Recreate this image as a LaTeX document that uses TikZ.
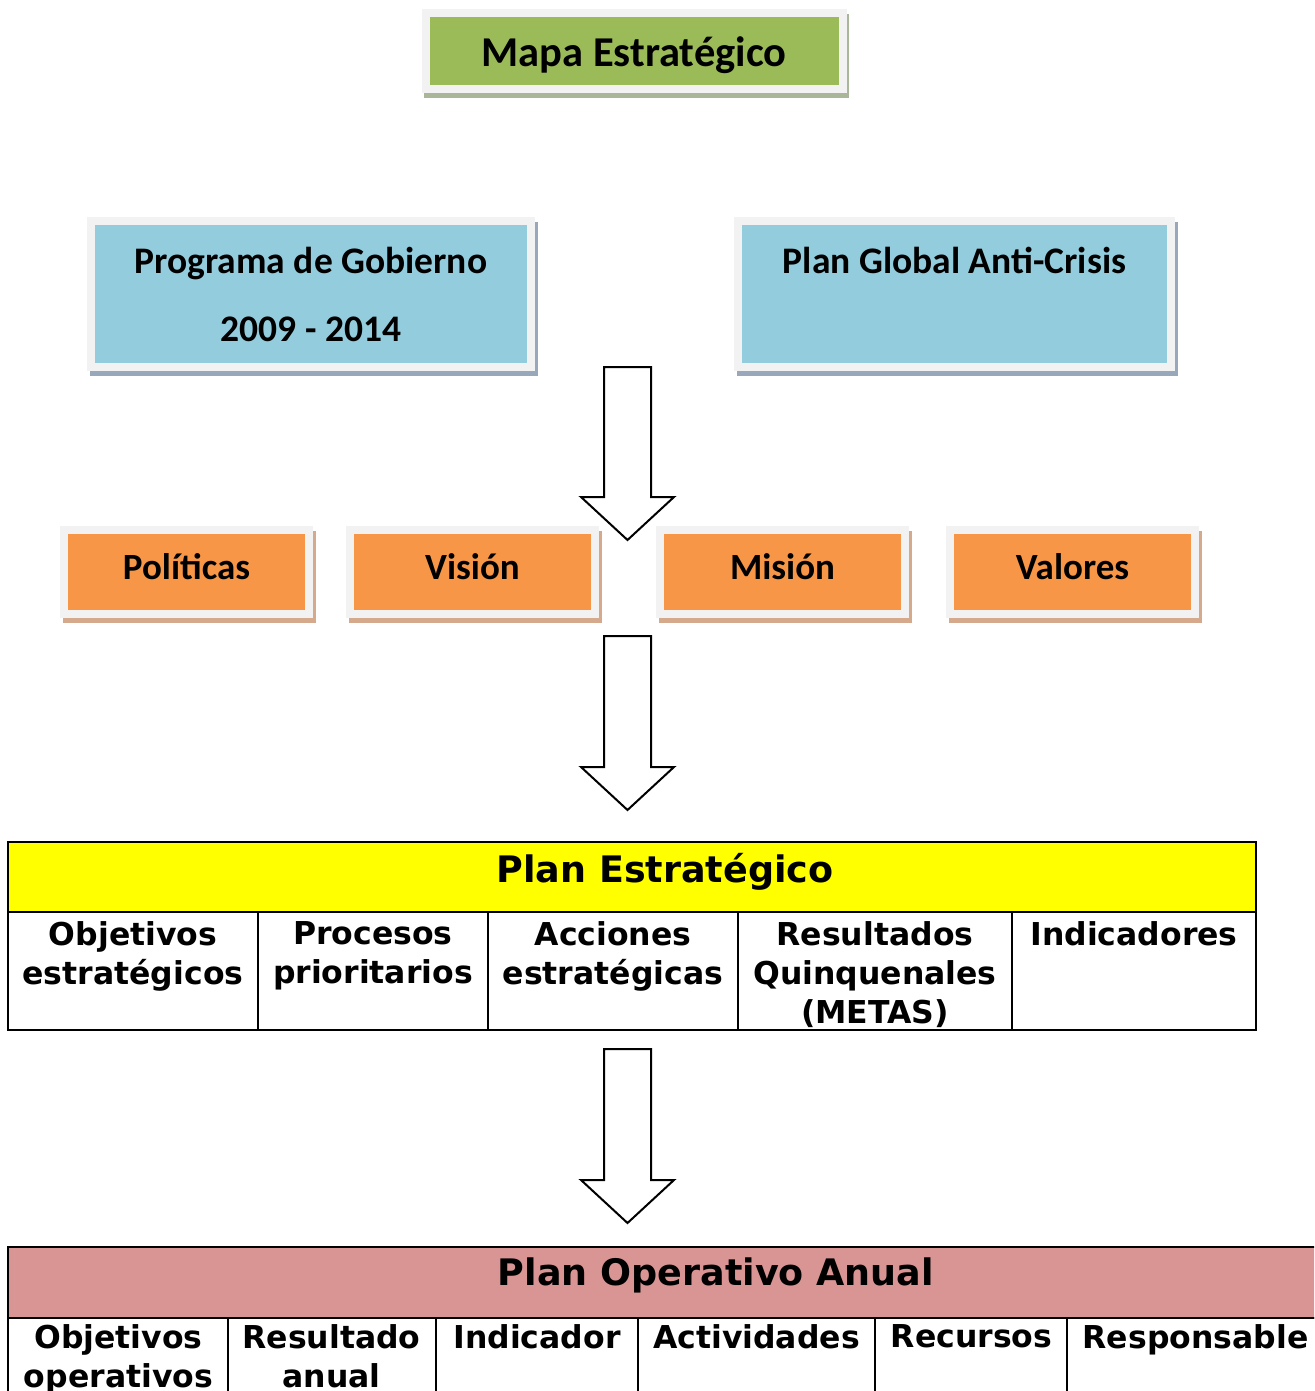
\documentclass[tikz,border=0pt]{standalone}
\usepackage{fontspec}
\setmainfont{Carlito}
\newfontfamily\verdana{DejaVu Sans}
\usepackage{xcolor}
\usepackage{tikz}
\usetikzlibrary{positioning}

\definecolor{framegray}{HTML}{F2F2F2}
\definecolor{titlegreen}{HTML}{9BBB59}
\definecolor{greenshadow}{HTML}{A9B69A}
\definecolor{boxblue}{HTML}{93CDDD}
\definecolor{blueshadow}{HTML}{98A7BA}
\definecolor{boxorange}{HTML}{F79646}
\definecolor{orangeshadow}{HTML}{D5AA8C}
\definecolor{peyellow}{HTML}{FFFF00}
\definecolor{poarose}{HTML}{D99594}

\begin{document}
\begin{tikzpicture}[x=1pt, y=-1pt]
	\tikzstyle{shadowbox} = [draw=framegray, line width=8pt, inner sep=0pt, align=center,
		preaction={draw=#1, fill=#1, line width=8pt, transform canvas={shift={(2.5pt,-5pt)}}}]
	\tikzstyle{titlebox} = [shadowbox=greenshadow, fill=titlegreen, minimum width=417pt, minimum height=76pt,
		font=\bfseries\fontsize{42.5}{50}\selectfont, text height=37pt, text depth=5pt]
	\tikzstyle{bluebox} = [shadowbox=blueshadow, fill=boxblue, minimum width=436pt, minimum height=146pt,
		font=\bfseries\fontsize{37.5}{68}\selectfont]
	\tikzstyle{orangebox} = [shadowbox=orangeshadow, fill=boxorange, minimum width=245pt, minimum height=84pt,
		font=\bfseries\fontsize{37}{44}\selectfont, text height=23.4pt, text depth=9pt]
	\tikzstyle{bigarrow} = [draw=black, fill=white, line width=2pt, line join=miter]
	\tikzstyle{tline} = [draw=black, line width=2pt]
	\tikzstyle{head} = [font=\verdana\bfseries\fontsize{36.5}{44}\selectfont, inner sep=0pt, anchor=base]
	\tikzstyle{cell} = [font=\verdana\bfseries\fontsize{31.5}{39}\selectfont, align=center, inner sep=0pt, anchor=north]

	\useasboundingbox (0,0) rectangle (1314,1391);
	\clip (0,0) rectangle (1314,1391);

	\node [titlebox] (mapa) at (634,51) {Mapa Estratégico};

	\node [bluebox, minimum width=440pt] (gobierno) at (311,294) {Programa de Gobierno\\2009 - 2014};
	\node [bluebox, minimum width=433pt] (crisis) at (954.5,294) {Plan Global Anti-Crisis\\\mbox{}};

	\node [orangebox] (politicas) at (186.5,572) {Políticas};
	\node [orangebox] (vision) at (472.5,572) {Visión};
	\node [orangebox] (mision) at (782.5,572) {Misión};
	\node [orangebox] (valores) at (1072.5,572) {Valores};

	% arrows
	\draw [bigarrow] (604,367) -- (651,367) -- (651,497) -- (674,497) -- (627.5,540) -- (581,497) -- (604,497) -- cycle;
	\draw [bigarrow] (604,636) -- (651,636) -- (651,767) -- (674,767) -- (627.5,810) -- (581,767) -- (604,767) -- cycle;
	\draw [bigarrow] (604,1049) -- (651,1049) -- (651,1180) -- (674,1180) -- (627.5,1223) -- (581,1180) -- (604,1180) -- cycle;

	% plan estrategico
	\draw [tline, fill=peyellow] (8,842) rectangle (1256,912);
	\draw [tline] (8,912) rectangle (1256,1030);
	\draw [tline] (258,912) -- (258,1030) (488,912) -- (488,1030) (738,912) -- (738,1030) (1012,912) -- (1012,1030);
	\node [head] (pe) at (665,882) {Plan Estratégico};
	\node [cell] (pe1) at (133,921) {Objetivos\\estratégicos};
	\node [cell] (pe2) at (373,921) {Procesos\\prioritarios};
	\node [cell] (pe3) at (613,921) {Acciones\\estratégicas};
	\node [cell] (pe4) at (875,921) {Resultados\\Quinquenales\\(METAS)};
	\node [cell] (pe5) at (1134,921) {Indicadores};

	% plan operativo anual
	\draw [tline, fill=poarose] (8,1247) rectangle (1420,1318);
	\draw [tline] (8,1318) rectangle (1420,1440);
	\draw [tline] (228,1318) -- (228,1440) (436,1318) -- (436,1440) (638,1318) -- (638,1440) (875,1318) -- (875,1440) (1067,1318) -- (1067,1440);
	\node [head] (poa) at (716,1285) {Plan Operativo Anual};
	\node [cell] (poa1) at (118.5,1324) {Objetivos\\operativos};
	\node [cell] (poa2) at (331.5,1324) {Resultado\\anual};
	\node [cell] (poa3) at (537,1324) {Indicador};
	\node [cell] (poa4) at (756.5,1324) {Actividades};
	\node [cell] (poa5) at (971.5,1324) {Recursos};
	\node [cell] (poa6) at (1195.5,1324) {Responsable};
\end{tikzpicture}
\end{document}
